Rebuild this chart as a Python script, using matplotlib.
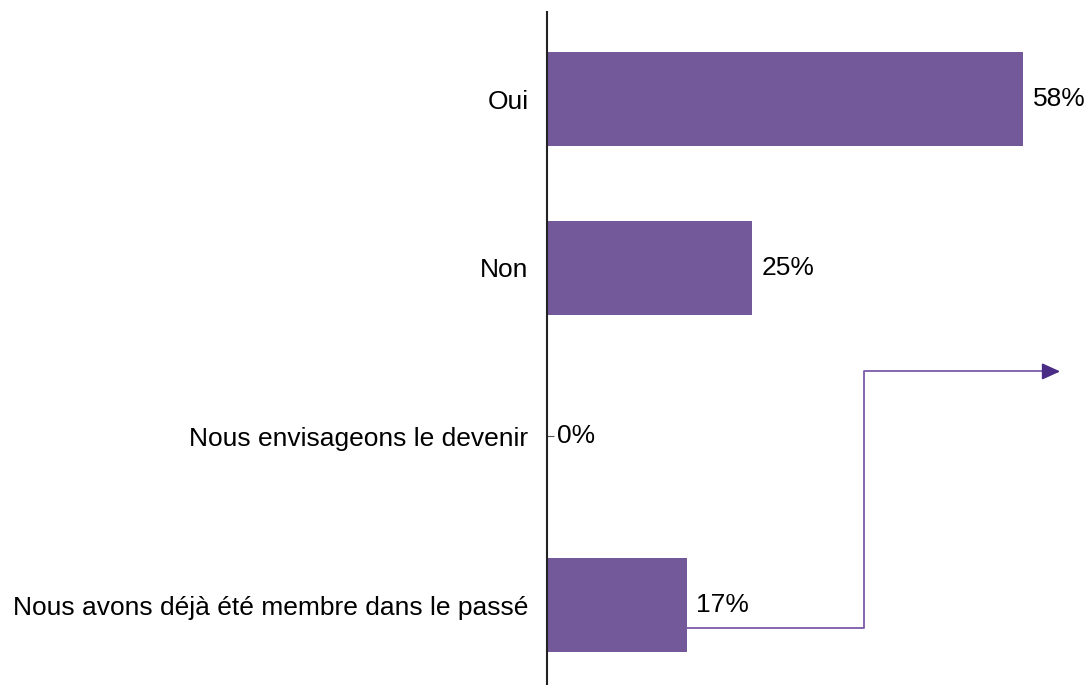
import matplotlib.pyplot as plt

plt.rcParams['font.family'] = ['Liberation Sans', 'DejaVu Sans']

categories = ['Oui', 'Non', 'Nous envisageons le devenir',
              'Nous avons déjà été membre dans le passé']
values = [58, 25, 0, 17]

# arrow path (data coords: % on x, category index on y)
arrow_x = [17, 38.6, 38.6, 62.9]
arrow_y = [3.136, 3.136, 1.615, 1.615]

bar_color = '#73589A'

fig = plt.figure(figsize=(10.9, 6.85), dpi=100)
ax = fig.add_axes([0.502, 0.0, 0.489, 0.9825])

ypos = range(len(categories))
ax.barh(ypos, values, height=0.557, color=bar_color, zorder=2)

for y, v in zip(ypos, values):
    ax.text(v + 1.2, y, f'{v}%', va='center', ha='left', fontsize=19)

ax.plot(arrow_x[:-1] + [arrow_x[-1] - 2.0], arrow_y, color='#7B5BAA', lw=1.3, zorder=3)
ax.annotate('', xy=(arrow_x[-1], arrow_y[-1]), xytext=(arrow_x[-1] - 2.4, arrow_y[-1]),
            arrowprops=dict(arrowstyle='-|>,head_length=1.1,head_width=0.5',
                            color='#4B2C85', lw=1.3))

ax.set_xlim(0, 65)
ax.set_ylim(3.474, -0.516)
ax.set_yticks(list(ypos))
ax.set_yticklabels(categories, fontsize=19)
ax.tick_params(axis='y', direction='in', length=5, pad=13.5, colors='#555555',
               labelcolor='black')
ax.set_axisbelow(True)
ax.set_xticks([])
for s in ['top', 'right', 'bottom']:
    ax.spines[s].set_visible(False)
ax.spines['left'].set_linewidth(1.5)
ax.spines['left'].set_color('#222222')

fig.savefig('out.png')
